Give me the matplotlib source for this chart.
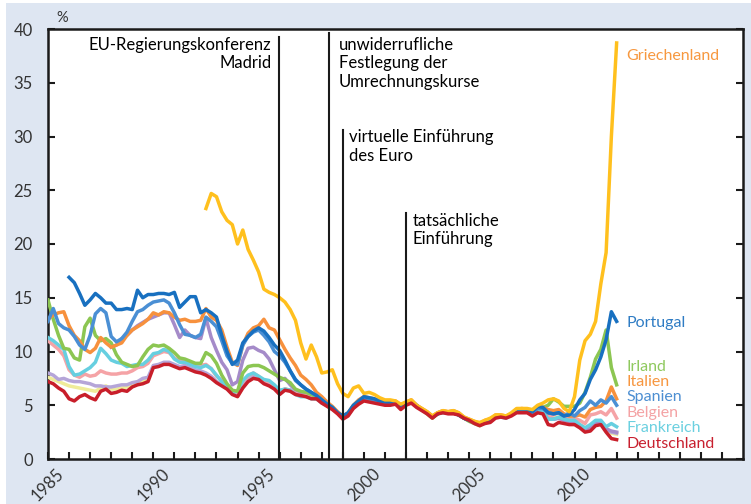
import numpy as np
import matplotlib
matplotlib.use("Agg")
import matplotlib.pyplot as plt
from matplotlib.patches import Rectangle
from matplotlib.ticker import FixedLocator, FuncFormatter

plt.rcParams['font.family'] = ['Lato', 'DejaVu Sans']

# Quartalswerte 1985.0 ... 2012.0 (Rendite 10-jähriger Staatsanleihen, %)
quarters = 1985 + 0.25 * np.arange(109)
nan = np.nan

deutschland = [
    7.2, 7.0, 6.6, 6.3, 5.6, 5.4, 5.8, 6.0, 5.7, 5.5, 6.3, 6.5, 6.1, 6.2, 6.4, 6.3,
    6.7, 6.9, 7.0, 7.2, 8.5, 8.6, 8.8, 8.8, 8.6, 8.4, 8.5, 8.3, 8.1, 8.0, 7.8, 7.5,
    7.1, 6.8, 6.5, 6.0, 5.8, 6.6, 7.2, 7.5, 7.4, 7.0, 6.8, 6.5, 6.0, 6.4, 6.3, 6.0,
    5.9, 5.8, 5.6, 5.6, 5.2, 4.9, 4.6, 4.2, 3.7, 4.0, 4.7, 5.1, 5.4, 5.3, 5.2, 5.1,
    5.0, 5.0, 5.1, 4.6, 5.0, 5.2, 4.8, 4.5, 4.2, 3.8, 4.2, 4.3, 4.2, 4.2, 4.1, 3.8,
    3.6, 3.3, 3.1, 3.3, 3.4, 3.8, 3.9, 3.8, 4.0, 4.3, 4.3, 4.3, 4.0, 4.3, 4.2, 3.2,
    3.1, 3.4, 3.3, 3.2, 3.2, 2.9, 2.5, 2.6, 3.1, 3.2, 2.5, 1.9, 1.8]

frankreich = [
    11.3, 11.0, 10.6, 10.2, 8.6, 7.8, 7.9, 8.2, 8.5, 9.0, 10.3, 9.8, 9.2, 9.0, 8.9, 8.6,
    8.7, 8.8, 8.8, 9.2, 9.8, 9.9, 10.2, 10.0, 9.3, 9.0, 9.0, 8.8, 8.6, 8.5, 8.7, 8.4,
    7.8, 7.2, 6.8, 6.2, 6.3, 7.3, 7.8, 8.0, 7.7, 7.4, 7.3, 6.9, 6.4, 6.5, 6.4, 6.0,
    5.8, 5.8, 5.6, 5.6, 5.3, 5.0, 4.7, 4.3, 3.9, 4.2, 4.9, 5.3, 5.6, 5.5, 5.4, 5.2,
    5.1, 5.2, 5.2, 4.8, 5.1, 5.3, 4.9, 4.6, 4.3, 3.9, 4.2, 4.3, 4.3, 4.3, 4.1, 3.8,
    3.6, 3.4, 3.2, 3.4, 3.5, 3.9, 3.9, 3.8, 4.1, 4.4, 4.4, 4.4, 4.1, 4.5, 4.4, 3.7,
    3.7, 3.9, 3.7, 3.6, 3.6, 3.2, 2.9, 3.2, 3.6, 3.6, 3.0, 3.3, 3.0]

belgien = [
    11.0, 10.6, 10.2, 9.6, 8.3, 7.8, 7.6, 7.9, 7.7, 7.8, 8.2, 8.0, 7.9, 7.9, 8.0, 8.0,
    8.2, 8.5, 8.6, 8.9, 9.6, 9.8, 10.0, 9.9, 9.4, 9.1, 9.1, 8.9, 8.8, 8.7, 8.8, 8.4,
    7.7, 7.3, 6.9, 6.3, 6.2, 7.2, 7.7, 8.0, 7.7, 7.3, 7.2, 6.8, 6.3, 6.5, 6.4, 6.1,
    5.9, 5.9, 5.7, 5.6, 5.3, 5.0, 4.8, 4.3, 3.9, 4.2, 4.9, 5.3, 5.7, 5.6, 5.5, 5.3,
    5.2, 5.3, 5.3, 4.9, 5.2, 5.4, 5.0, 4.6, 4.3, 3.9, 4.2, 4.4, 4.3, 4.3, 4.1, 3.8,
    3.6, 3.4, 3.2, 3.4, 3.5, 3.9, 4.0, 3.9, 4.1, 4.5, 4.5, 4.5, 4.3, 4.7, 4.6, 4.0,
    4.1, 4.3, 3.9, 3.8, 3.8, 3.6, 3.3, 4.1, 4.2, 4.4, 4.1, 4.7, 3.8]

italien = [
    13.0, 13.4, 13.6, 13.7, 12.4, 11.5, 11.0, 10.2, 9.9, 10.3, 11.3, 10.8, 10.4, 10.6, 10.8, 11.5,
    12.0, 12.3, 12.6, 13.0, 13.6, 13.4, 13.7, 13.6, 13.2, 12.9, 13.0, 12.8, 12.8, 12.9, 14.0, 13.2,
    12.9, 12.0, 10.4, 9.0, 8.7, 10.6, 11.7, 12.2, 12.4, 13.0, 12.2, 12.0, 11.1, 10.2, 9.4, 8.7,
    7.8, 7.4, 6.9, 6.2, 5.8, 5.3, 4.9, 4.4, 4.0, 4.3, 5.0, 5.5, 5.8, 5.7, 5.6, 5.4,
    5.3, 5.4, 5.4, 5.0, 5.3, 5.5, 5.0, 4.7, 4.4, 4.0, 4.3, 4.5, 4.4, 4.5, 4.3, 3.9,
    3.7, 3.5, 3.3, 3.6, 3.7, 4.1, 4.1, 4.0, 4.2, 4.6, 4.7, 4.6, 4.5, 4.9, 4.8, 4.6,
    4.5, 4.6, 4.2, 4.0, 4.0, 4.1, 3.9, 4.6, 4.8, 4.9, 5.4, 6.7, 5.6]

spanien = [
    12.8, 14.0, 12.6, 12.2, 12.0, 11.4, 10.6, 10.2, 11.5, 13.5, 14.0, 13.6, 11.4, 10.9, 11.2, 11.8,
    12.8, 13.7, 13.9, 14.3, 14.6, 14.7, 14.8, 14.5, 13.6, 12.5, 11.6, 11.5, 11.3, 11.6, 13.2, 12.8,
    12.3, 11.0, 9.6, 8.9, 8.8, 10.6, 11.4, 11.8, 12.0, 11.5, 10.9, 10.0, 9.6, 9.0, 8.2, 7.3,
    6.9, 6.5, 6.2, 5.9, 5.5, 5.1, 4.8, 4.3, 3.9, 4.2, 4.9, 5.3, 5.7, 5.6, 5.5, 5.3,
    5.2, 5.3, 5.3, 4.9, 5.2, 5.4, 4.9, 4.6, 4.3, 3.9, 4.2, 4.4, 4.3, 4.3, 4.1, 3.8,
    3.6, 3.4, 3.2, 3.4, 3.6, 4.0, 4.0, 3.9, 4.1, 4.5, 4.5, 4.5, 4.3, 4.7, 4.7, 4.3,
    4.2, 4.3, 4.0, 4.3, 4.0, 4.5, 4.8, 5.4, 5.0, 5.5, 5.2, 5.8, 5.0]

portugal = [
    nan, nan, nan, nan, 16.9, 16.4, 15.4, 14.3, 14.8, 15.4, 15.0, 14.5, 14.5, 13.9, 13.9, 14.0,
    13.9, 15.7, 15.0, 15.3, 15.3, 15.4, 15.4, 15.3, 15.5, 14.1, 14.6, 15.1, 15.1, 13.6, 13.9, 13.6,
    13.2, 11.5, 10.0, 8.8, 9.2, 10.8, 11.4, 11.9, 12.2, 11.9, 11.3, 10.6, 10.1, 9.2, 8.2, 7.4,
    6.9, 6.5, 6.2, 5.9, 5.5, 5.1, 4.8, 4.3, 4.0, 4.3, 5.0, 5.4, 5.8, 5.7, 5.6, 5.4,
    5.3, 5.3, 5.3, 5.0, 5.2, 5.4, 5.0, 4.6, 4.3, 3.9, 4.2, 4.4, 4.3, 4.3, 4.1, 3.8,
    3.6, 3.4, 3.3, 3.5, 3.6, 4.0, 4.0, 3.9, 4.2, 4.6, 4.6, 4.5, 4.4, 4.9, 4.8, 4.3,
    4.2, 4.3, 4.0, 4.1, 4.6, 5.5, 6.1, 7.4, 8.3, 9.5, 11.1, 13.7, 12.8]

irland = [
    14.8, 13.0, 11.5, 10.3, 10.2, 9.4, 9.2, 12.3, 13.1, 11.5, 11.0, 11.2, 10.8, 9.7, 9.0, 8.8,
    8.6, 8.7, 9.5, 10.2, 10.6, 10.5, 10.6, 10.3, 9.9, 9.4, 9.3, 9.1, 8.9, 8.9, 9.9, 9.6,
    8.9, 7.8, 7.0, 6.4, 6.3, 8.0, 8.6, 8.7, 8.7, 8.5, 8.2, 7.9, 7.6, 7.4, 7.1, 6.5,
    6.3, 6.2, 6.0, 5.8, 5.3, 5.0, 4.7, 4.3, 3.9, 4.2, 4.9, 5.3, 5.7, 5.6, 5.5, 5.3,
    5.1, 5.2, 5.2, 4.9, 5.2, 5.4, 4.9, 4.6, 4.2, 3.8, 4.2, 4.4, 4.3, 4.3, 4.1, 3.8,
    3.5, 3.3, 3.1, 3.4, 3.5, 3.9, 4.0, 3.9, 4.1, 4.5, 4.5, 4.6, 4.4, 4.7, 4.8, 5.0,
    5.6, 5.3, 4.9, 4.9, 4.9, 5.2, 6.2, 7.6, 9.3, 10.2, 12.0, 8.5, 6.9]

griechenland = [
    nan, nan, nan, nan, nan, nan, nan, nan, nan, nan, nan, nan, nan, nan, nan, nan,
    nan, nan, nan, nan, nan, nan, nan, nan, nan, nan, nan, nan, nan, nan, 23.3, 24.7,
    24.4, 23.0, 22.2, 21.8, 20.0, 21.3, 19.5, 18.5, 17.4, 15.8, 15.5, 15.3, 15.0, 14.6, 13.9, 12.9,
    10.8, 9.3, 10.6, 9.5, 8.0, 8.1, 8.3, 7.0, 6.1, 5.8, 6.6, 6.8, 6.1, 6.2, 6.0, 5.7,
    5.5, 5.5, 5.4, 5.1, 5.3, 5.5, 5.0, 4.7, 4.4, 4.0, 4.3, 4.5, 4.4, 4.5, 4.3, 3.9,
    3.7, 3.5, 3.4, 3.6, 3.8, 4.1, 4.1, 4.0, 4.3, 4.7, 4.7, 4.7, 4.6, 5.0, 5.2, 5.5,
    5.6, 5.4, 4.7, 4.4, 5.8, 9.2, 11.0, 11.6, 12.8, 16.3, 19.2, 30.0, 38.7]

niederlande = [
    8.0, 7.8, 7.4, 7.5, 7.3, 7.2, 7.2, 7.1, 7.0, 6.8, 6.8, 6.7, 6.7, 6.8, 6.9, 6.9,
    7.1, 7.2, 7.5, 7.6, 8.7, 8.8, 9.0, 9.0, 8.8, 8.6, 8.7, 8.5, 8.3, 8.2, 8.0, 7.7,
    7.2, 6.9, 6.6, 6.1, 5.9, 6.8, 7.4, 7.7, 7.6, 7.1, 6.9, 6.6, 6.2, 6.5, 6.4, 6.1,
    5.9, 5.9, 5.7, 5.6, 5.2, 5.0, 4.7, 4.3, 3.8, 4.1, 4.8, 5.2, 5.5, 5.4, 5.3, 5.2,
    5.1, 5.1, 5.2, 4.7, 5.1, 5.3, 4.9, 4.6, 4.3, 3.9, 4.3, 4.4, 4.3, 4.3, 4.1, 3.8,
    3.6, 3.4, 3.2, 3.4, 3.5, 3.9, 4.0, 3.9, 4.1, 4.4, 4.4, 4.4, 4.2, 4.5, 4.4, 3.7,
    3.7, 3.8, 3.6, 3.5, 3.5, 3.1, 2.8, 2.9, 3.4, 3.4, 2.8, 2.5, 2.4]

schweden = [
    nan, nan, nan, nan, nan, nan, nan, nan, nan, nan, nan, nan, 10.4, 10.6, 11.2, 11.5,
    12.0, 12.4, 12.7, 13.0, 13.2, 13.4, 13.6, 13.6, 12.5, 11.3, 12.0, 11.5, 11.3, 11.2, 13.1, 11.3,
    10.1, 9.0, 8.3, 6.9, 7.2, 9.2, 10.3, 10.4, 10.1, 9.9, 9.3, 8.3, 7.3, 7.5, 6.9, 6.4,
    6.2, 6.1, 5.9, 5.8, 5.3, 5.0, 4.7, 4.3, 3.8, 4.1, 4.8, 5.2, 5.5, 5.4, 5.3, 5.2,
    5.1, 5.1, 5.2, 4.7, 5.1, 5.3, 4.9, 4.6, 4.3, 3.9, 4.3, 4.4, 4.3, 4.3, 4.1, 3.8,
    3.6, 3.4, 3.2, 3.4, 3.5, 3.9, 4.0, 3.9, 4.1, 4.4, 4.4, 4.4, 4.2, 4.5, 4.4, 3.7,
    3.7, 3.8, 3.6, 3.5, 3.5, 3.1, 2.8, 2.9, 3.4, 3.4, 2.8, 2.6, 2.5]

oesterreich = [
    7.6, 7.4, 7.2, 7.0, 6.8, 6.7, 6.6, 6.5, 6.4, 6.3, 6.6, 6.8, 6.5, 6.5, 6.6, 6.7,
    6.9, 7.0, 7.2, 7.4, 8.6, 8.7, 8.9, 8.9, 8.7, 8.5, 8.6, 8.4, 8.2, 8.1, 7.9, 7.6,
    7.2, 6.9, 6.6, 6.1, 5.8, 6.7, 7.3, 7.6, 7.5, 7.1, 6.9, 6.6, 6.1, 6.5, 6.4, 6.1,
    5.9, 5.9, 5.7, 5.6, 5.3, 5.0, 4.7, 4.3, 3.8, 4.1, 4.8, 5.2, 5.5, 5.4, 5.3, 5.2,
    5.1, 5.1, 5.2, 4.7, 5.1, 5.3, 4.9, 4.6, 4.3, 3.9, 4.3, 4.4, 4.3, 4.3, 4.1, 3.8,
    3.6, 3.4, 3.2, 3.4, 3.5, 3.9, 4.0, 3.9, 4.1, 4.4, 4.4, 4.4, 4.2, 4.5, 4.4, 3.8,
    3.8, 3.9, 3.7, 3.6, 3.6, 3.2, 2.9, 3.0, 3.5, 3.5, 2.9, 2.4, 2.3]

# Ereignisse (Jahr, Text)
event_years = [1995.95, 1998.35, 1999.0, 2002.0]
event_tops = [39.3, 39.6, 30.6, 22.9]
event_texts = ["EU-Regierungskonferenz\nMadrid",
               "unwiderrufliche\nFestlegung der\nUmrechnungskurse",
               "virtuelle Einführung\ndes Euro",
               "tatsächliche\nEinführung"]

# Zeichenreihenfolge: hinten -> vorne
series = [
    (oesterreich, '#efec9a', None, None, None),
    (niederlande, '#b5a5d8', None, None, None),
    (schweden, '#a58bc9', None, None, None),
    (belgien, '#f5a3a6', 'Belgien', '#f4a2a4', 4.3),
    (frankreich, '#66cfe0', 'Frankreich', '#6bd0e0', 2.85),
    (irland, '#8cc652', 'Irland', '#8fc95e', 8.6),
    (italien, '#f7913d', 'Italien', '#f7963f', 7.15),
    (spanien, '#4a8fd4', 'Spanien', '#4d8fd2', 5.75),
    (portugal, '#1870c0', 'Portugal', '#2f7cc4', 12.65),
    (griechenland, '#ffc01e', 'Griechenland', '#f7983f', 37.5),
    (deutschland, '#c81e2a', 'Deutschland', '#c8202f', 1.38),
]

fig = plt.figure(figsize=(7.51, 5.04), dpi=100, facecolor='white')
fig.patches.append(Rectangle((6 / 751, 0), 1, (504 - 3) / 504, transform=fig.transFigure,
                             facecolor='#dee6f2', edgecolor='none', zorder=-10))
ax = fig.add_axes([48 / 751, 45 / 504, 695 / 751, 430 / 504])
ax.set_facecolor('white')

for vals, col, label, lcol, ly in series:
    ax.plot(quarters, vals, color=col, linewidth=2.5, solid_joinstyle='round', zorder=3)
    if label:
        ax.text(2012.45, ly, label, color=lcol, fontsize=11.5, va='center', ha='left')

for yr, top in zip(event_years, event_tops):
    ax.plot([yr, yr], [0, top], color='#1a1a1a', linewidth=1.5, zorder=4)

ax.text(1995.6, 39.3, event_texts[0], ha='right', va='top', fontsize=12)
ax.text(1998.8, 39.3, event_texts[1], ha='left', va='top', fontsize=12)
ax.text(1999.3, 30.7, event_texts[2], ha='left', va='top', fontsize=12)
ax.text(2002.3, 22.9, event_texts[3], ha='left', va='top', fontsize=12)

ax.set_xlim(1985, 2018)
ax.set_ylim(0, 40)
ax.xaxis.set_major_locator(FixedLocator(np.arange(1985, 2018)))
ax.xaxis.set_major_formatter(FuncFormatter(
    lambda v, p: str(int(round(v))) if (round(v) % 5 == 0 and v <= 2010) else ''))
ax.set_yticks(np.arange(0, 41, 5))
ax.tick_params(axis='x', direction='in', length=5, width=1.5, labelsize=12,
               labelrotation=45, pad=5, colors='#1a1a1a', labelcolor='#333333')
ax.tick_params(axis='y', direction='in', length=5, width=1.5, labelsize=12,
               pad=11, right=True, colors='#1a1a1a', labelcolor='#333333')
for s in ax.spines.values():
    s.set_linewidth(1.8)
    s.set_color('#1a1a1a')

fig.text(62 / 751, 1 - 18 / 504, '%', fontsize=10.5, ha='center', va='center', color='#333333')

plt.savefig('out.png', dpi=100, facecolor=fig.get_facecolor())
